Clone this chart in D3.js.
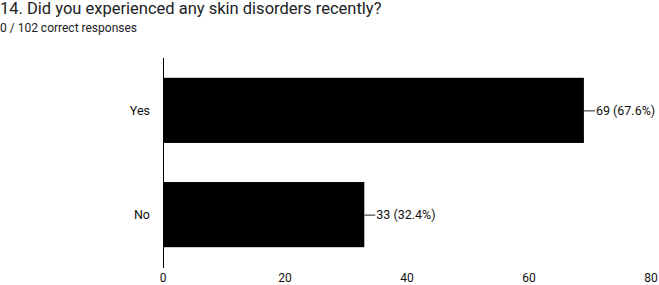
<!DOCTYPE html>
<html>
<head>
<meta charset="utf-8">
<script src="https://cdn.jsdelivr.net/npm/d3@7"></script>
<style>
  body { margin: 0; background: #fff; font-family: Roboto, "Noto Sans", sans-serif; }
</style>
</head>
<body>
<main></main>
<script>
// chart data
const categories = ["Yes", "No"];
const counts = [69, 33];
const percents = ["67.6%", "32.4%"];
const ticks = [0, 20, 40, 60, 80];

const width = 659, height = 285;

const svg = d3.select("main")
  .append("svg")
  .attr("width", width)
  .attr("height", height);

// title + subtitle
svg.append("text")
  .attr("x", 0)
  .attr("y", 14)
  .attr("font-size", "16.5px")
  .attr("fill", "#202124")
  .text("14. Did you experienced any skin disorders recently?");

svg.append("text")
  .attr("x", 0)
  .attr("y", 32)
  .attr("font-size", "12px")
  .attr("fill", "#202124")
  .text("0 / 102 correct responses");

const x = d3.scaleLinear().domain([0, 80]).range([163, 651]);
const y = d3.scaleBand().domain(categories).range([58, 267]).paddingInner(0.375).paddingOuter(0.19);

const rows = categories.map((c, i) => ({ name: c, value: counts[i], pct: percents[i] }));

// bars
svg.selectAll("rect.bar")
  .data(rows)
  .enter()
  .append("rect")
  .attr("class", "bar")
  .attr("x", x(0))
  .attr("y", d => y(d.name))
  .attr("width", d => x(d.value) - x(0))
  .attr("height", y.bandwidth())
  .attr("fill", "#000");

// vertical axis line
svg.append("line")
  .attr("x1", x(0) + 0.5).attr("x2", x(0) + 0.5)
  .attr("y1", 58).attr("y2", 268)
  .attr("stroke", "#000")
  .attr("stroke-width", 1);

// category labels
svg.selectAll("text.cat")
  .data(rows)
  .enter()
  .append("text")
  .attr("class", "cat")
  .attr("x", 150)
  .attr("y", d => y(d.name) + y.bandwidth() / 2 + 4.5)
  .attr("text-anchor", "end")
  .attr("font-size", "12.5px")
  .attr("fill", "#111")
  .text(d => d.name);

// value labels with leader line
svg.selectAll("line.lead")
  .data(rows)
  .enter()
  .append("line")
  .attr("class", "lead")
  .attr("x1", d => x(d.value))
  .attr("x2", d => x(d.value) + 11)
  .attr("y1", d => y(d.name) + y.bandwidth() / 2 + 0.5)
  .attr("y2", d => y(d.name) + y.bandwidth() / 2 + 0.5)
  .attr("stroke", "#222");

svg.selectAll("text.val")
  .data(rows)
  .enter()
  .append("text")
  .attr("class", "val")
  .attr("x", d => x(d.value) + 12)
  .attr("y", d => y(d.name) + y.bandwidth() / 2 + 4.5)
  .attr("font-size", "12.5px")
  .attr("fill", "#111")
  .text(d => d.value + " (" + d.pct + ")");

// x axis tick labels
svg.selectAll("text.tick")
  .data(ticks)
  .enter()
  .append("text")
  .attr("class", "tick")
  .attr("x", d => x(d))
  .attr("y", 281.5)
  .attr("text-anchor", "middle")
  .attr("font-size", "12px")
  .attr("fill", "#111")
  .text(d => d);
</script>
</body>
</html>
